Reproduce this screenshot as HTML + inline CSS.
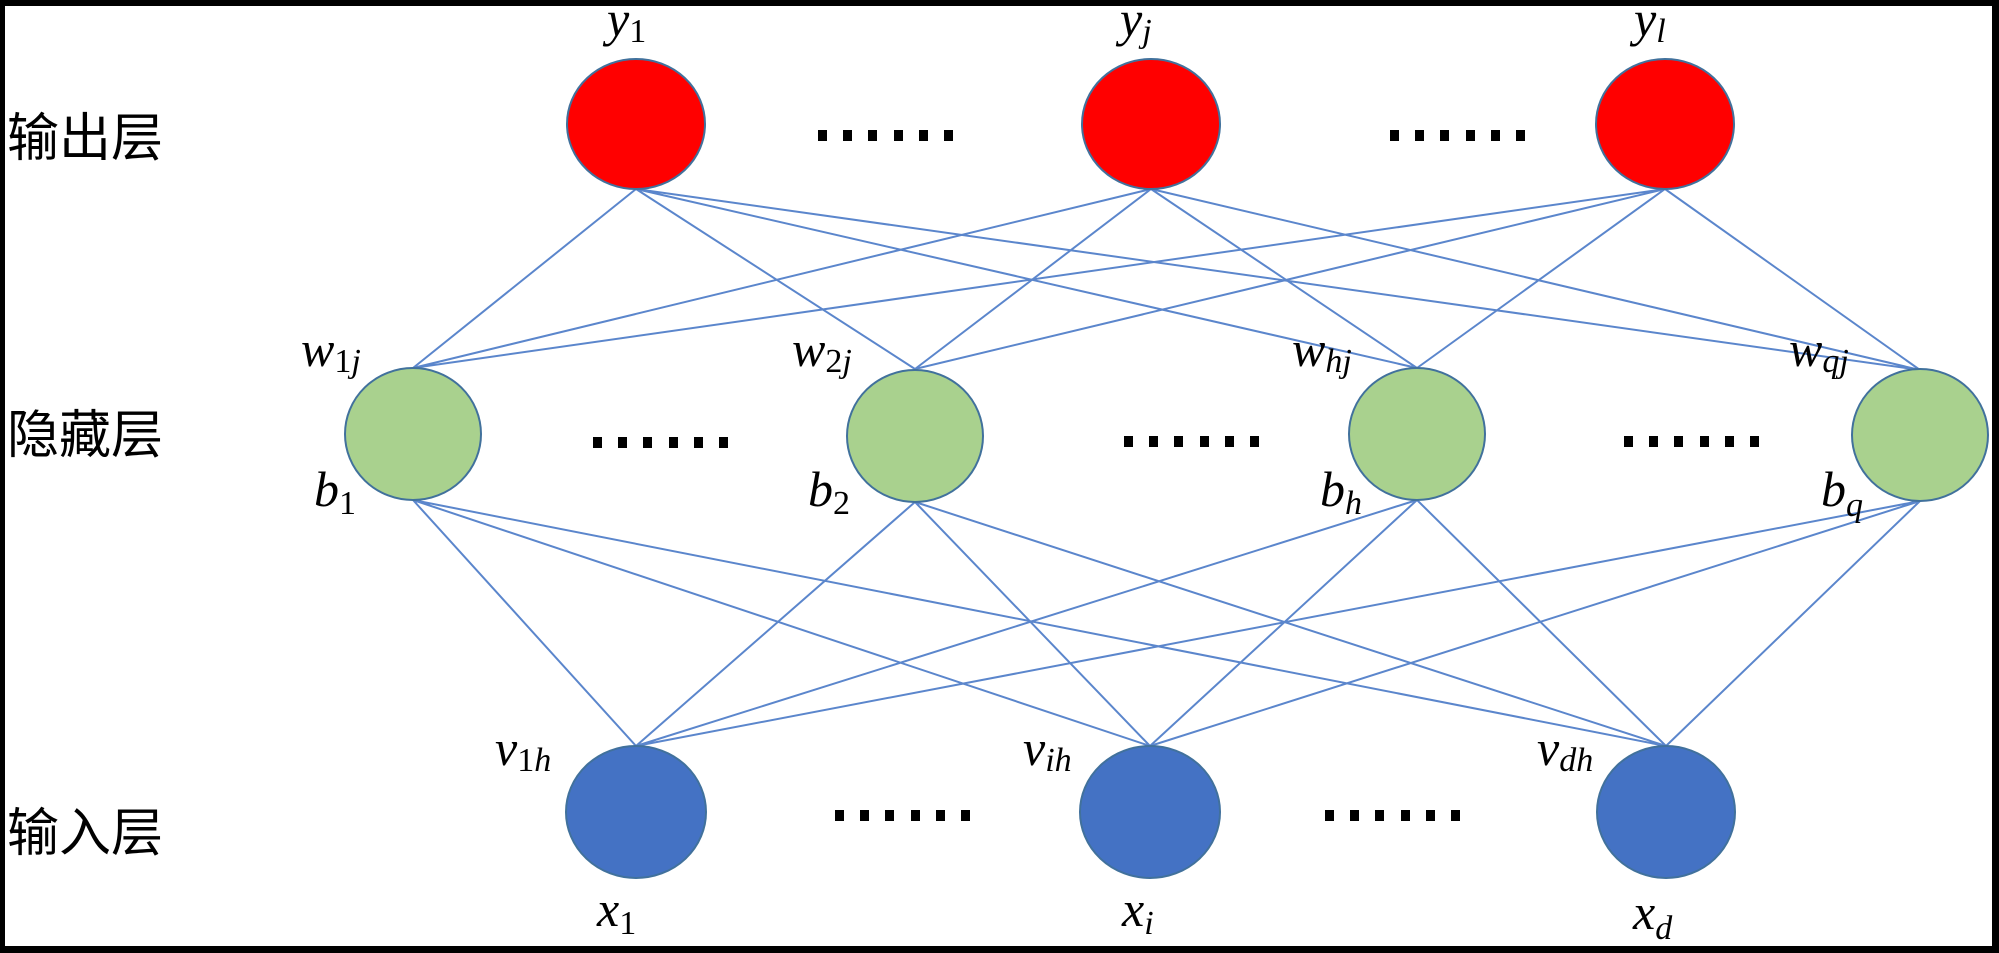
<!DOCTYPE html>
<html><head><meta charset="utf-8"><style>
html,body{margin:0;padding:0;background:#000;}
svg{display:block;}
.m{font-family:"Liberation Serif",serif;font-style:italic;fill:#000;}
.c{font-family:"Liberation Sans","Noto Sans CJK SC",sans-serif;fill:#000;}
</style></head><body>
<svg width="1999" height="953" viewBox="0 0 1999 953" xmlns="http://www.w3.org/2000/svg">
<defs>
<g id="d"><rect x="0" y="0" width="9" height="11"/><rect x="25" y="0" width="9" height="11"/><rect x="50" y="0" width="9" height="11"/><rect x="76" y="0" width="9" height="11"/><rect x="101" y="0" width="9" height="11"/><rect x="126" y="0" width="9" height="11"/></g>
</defs>
<rect x="0" y="0" width="1999" height="953" fill="#000"/>
<rect x="5" y="6" width="1987" height="940" fill="#fff"/>
<g stroke="#5b86cc" stroke-width="2" fill="none">
<path d="M636 189L413 368M636 189L915 369M636 189L1417 368M636 189L1920 370
M1151 189L413 368M1151 189L915 369M1151 189L1417 368M1151 189L1920 370
M1665 189L413 368M1665 189L915 369M1665 189L1417 368M1665 189L1920 370"/>
<path d="M413 500L636 746M413 500L1150 746M413 500L1666 746
M915 502L636 746M915 502L1150 746M915 502L1666 746
M1417 500L636 746M1417 500L1150 746M1417 500L1666 746
M1920 501L636 746M1920 501L1150 746M1920 501L1666 746"/>
</g>
<g stroke="#41719c" stroke-width="2">
<ellipse cx="636" cy="124" rx="69" ry="65" fill="#ff0000"/>
<ellipse cx="1151" cy="124" rx="69" ry="65" fill="#ff0000"/>
<ellipse cx="1665" cy="124" rx="69" ry="65" fill="#ff0000"/>
<ellipse cx="413" cy="434" rx="68" ry="66" fill="#a9d18e"/>
<ellipse cx="915" cy="436" rx="68" ry="66" fill="#a9d18e"/>
<ellipse cx="1417" cy="434" rx="68" ry="66" fill="#a9d18e"/>
<ellipse cx="1920" cy="435" rx="68" ry="66" fill="#a9d18e"/>
<ellipse cx="636" cy="812" rx="70" ry="66" fill="#4472c4"/>
<ellipse cx="1150" cy="812" rx="70" ry="66" fill="#4472c4"/>
<ellipse cx="1666" cy="812" rx="69" ry="66" fill="#4472c4"/>
</g>
<g fill="#000">
<use href="#d" x="818" y="130"/>
<use href="#d" x="1390" y="130"/>
<use href="#d" x="593" y="437"/>
<use href="#d" x="1124" y="436"/>
<use href="#d" x="1624" y="436"/>
<use href="#d" x="835" y="810"/>
<use href="#d" x="1325" y="810"/>
</g>
<g class="c" font-size="52">
<text x="7" y="156">输出层</text>
<text x="7" y="453">隐藏层</text>
<text x="7" y="851">输入层</text>
</g>
<g class="m" font-size="50">
<text x="607" y="36">y<tspan font-size="34" font-style="normal" dy="6">1</tspan></text>
<text x="1120" y="36">y<tspan font-size="34" dy="6">j</tspan></text>
<text x="1634" y="36">y<tspan font-size="34" dy="6">l</tspan></text>
<text x="301" y="366">w<tspan font-size="34" dy="6"><tspan font-style="normal">1</tspan>j</tspan></text>
<text x="792" y="366">w<tspan font-size="34" dy="6"><tspan font-style="normal">2</tspan>j</tspan></text>
<text x="1292" y="366">w<tspan font-size="34" dy="6">hj</tspan></text>
<text x="1789" y="366">w<tspan font-size="34" dy="6">qj</tspan></text>
<text x="314" y="506">b<tspan font-size="34" font-style="normal" dy="8">1</tspan></text>
<text x="808" y="506">b<tspan font-size="34" font-style="normal" dy="8">2</tspan></text>
<text x="1320" y="506">b<tspan font-size="34" dy="8">h</tspan></text>
<text x="1821" y="506">b<tspan font-size="34" dy="10">q</tspan></text>
<text x="495" y="765">v<tspan font-size="34" dy="6"><tspan font-style="normal">1</tspan>h</tspan></text>
<text x="1023" y="765">v<tspan font-size="34" dy="6">ih</tspan></text>
<text x="1537" y="765">v<tspan font-size="34" dy="6">dh</tspan></text>
<text x="597" y="926">x<tspan font-size="34" font-style="normal" dy="8">1</tspan></text>
<text x="1122" y="926">x<tspan font-size="34" dy="8">i</tspan></text>
<text x="1633" y="929">x<tspan font-size="34" dy="10">d</tspan></text>
</g>
</svg>
</body></html>
